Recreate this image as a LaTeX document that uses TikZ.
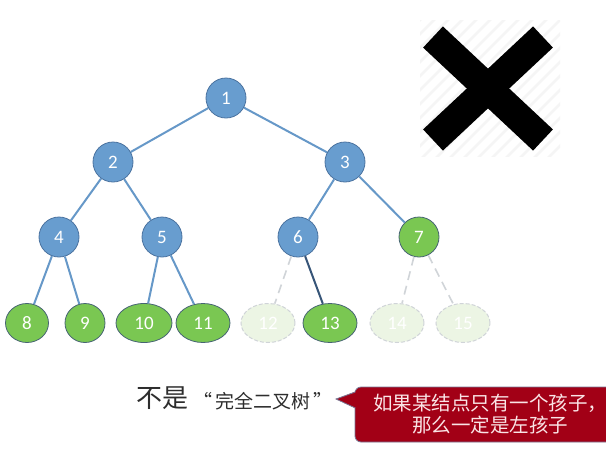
\documentclass[tikz,border=0pt]{standalone}
\usepackage{fontspec}
\setmainfont{Carlito}
\newfontfamily\cjk{Noto Sans CJK SC}
\usetikzlibrary{shapes.geometric}
\definecolor{nodeblue}{RGB}{104,157,207}
\definecolor{blueborder}{RGB}{75,115,160}
\definecolor{nodegreen}{RGB}{122,199,82}
\definecolor{greenborder}{RGB}{70,100,115}
\definecolor{edgeblue}{RGB}{102,152,200}
\definecolor{darkedge}{RGB}{55,85,120}
\definecolor{ghostfill}{RGB}{236,245,228}
\definecolor{ghostline}{RGB}{208,212,216}
\definecolor{calloutred}{RGB}{162,0,22}
\definecolor{calloutborder}{RGB}{120,120,150}
\definecolor{callouttext}{RGB}{250,228,230}
\definecolor{maintext}{RGB}{45,45,45}
\tikzset{
  numfont/.style={font=\fontsize{19}{19}\selectfont, text=white},
  bluenode/.style={circle, fill=nodeblue, draw=blueborder, line width=0.8pt, minimum size=40pt, inner sep=0pt, numfont},
  greenround/.style={circle, fill=nodegreen, draw=greenborder, line width=0.8pt, minimum size=40pt, inner sep=0pt, numfont},
  leaf/.style={ellipse, fill=nodegreen, draw=greenborder, line width=0.8pt, minimum height=39pt, minimum width=54pt, inner sep=0pt, numfont},
  ghost/.style={ellipse, fill=ghostfill, draw=ghostline, line width=1pt, dash pattern=on 4pt off 2pt, minimum height=39pt, minimum width=54pt, inner sep=0pt, numfont},
  treeedge/.style={draw=edgeblue, line width=2pt},
  darktreeedge/.style={draw=darkedge, line width=2pt},
  ghostedge/.style={draw=ghostline, line width=1.6pt, dash pattern=on 9pt off 6pt},
  hatch/.style={draw=black!4, line width=2.5pt},
  xbar/.style={draw=black, line width=29pt},
  callbox/.style={fill=calloutred, draw=calloutborder, line width=0.8pt, rounded corners=6pt},
  calltext/.style={text=callouttext, align=center, font=\cjk\fontsize{19.5}{22}\selectfont, inner sep=0pt},
}
\begin{document}
\begin{tikzpicture}[x=1pt,y=-1pt]
\clip (0,0) rectangle (606,451);
\fill[white] (0,0) rectangle (606,451);

% hatched background of the cross
\begin{scope}
\clip (420,20) rectangle (560,156);
\foreach \i in {-12,...,12} \draw[hatch] (420+\i*14,160) -- ++(150,-150);
\end{scope}
\draw[xbar] (433,37) -- (543,140);
\draw[xbar] (543,37) -- (433,140);

% tree nodes
\node[bluenode] (n1) at (226,98) {1};
\node[bluenode] (n2) at (113,162) {2};
\node[bluenode] (n3) at (345,162) {3};
\node[bluenode] (n4) at (59,237) {4};
\node[bluenode] (n5) at (162,237) {5};
\node[bluenode] (n6) at (298,237) {6};
\node[greenround] (n7) at (419,237) {7};
\node[leaf, minimum width=43pt] (n8) at (27,323) {8};
\node[leaf, minimum width=40pt] (n9) at (85,323) {9};
\node[leaf, minimum width=56pt] (n10) at (144,323) {10};
\node[leaf] (n11) at (203,323) {11};
\node[ghost] (n12) at (268,323) {12};
\node[leaf] (n13) at (330,323) {13};
\node[ghost] (n14) at (397,323) {14};
\node[ghost] (n15) at (463,323) {15};

% edges
\draw[treeedge] (n1) -- (n2);
\draw[treeedge] (n1) -- (n3);
\draw[treeedge] (n2) -- (n4);
\draw[treeedge] (n2) -- (n5);
\draw[treeedge] (n3) -- (n6);
\draw[treeedge] (n3) -- (n7);
\draw[treeedge] (n4) -- (n8);
\draw[treeedge] (n4) -- (n9);
\draw[treeedge] (n5) -- (n10);
\draw[treeedge] (n5) -- (n11);
\draw[darktreeedge] (n6) -- (n13);
\draw[ghostedge] (n6) -- (n12);
\draw[ghostedge] (n7) -- (n14);
\draw[ghostedge] (n7) -- (n15);

% bottom text
\node[text=maintext, font=\cjk\fontsize{26}{26}\selectfont, inner sep=0pt] (bushi) at (162,398) {不是};
\node[text=maintext, font=\cjk\fontsize{19}{19}\selectfont, inner sep=0pt, anchor=west] (quote) at (193,401) {“\,完全二叉树\,”};

% callout
\draw[callbox] (355,387) rectangle (630,442);
\fill[calloutred] (336,399) -- (357,391) -- (357,409) -- cycle;
\draw[draw=calloutborder, line width=0.8pt] (355.4,392) -- (336,399) -- (355.4,408);
\node[calltext] (note) at (490,414) {如果某结点只有一个孩子，\\那么一定是左孩子};
\end{tikzpicture}
\end{document}
